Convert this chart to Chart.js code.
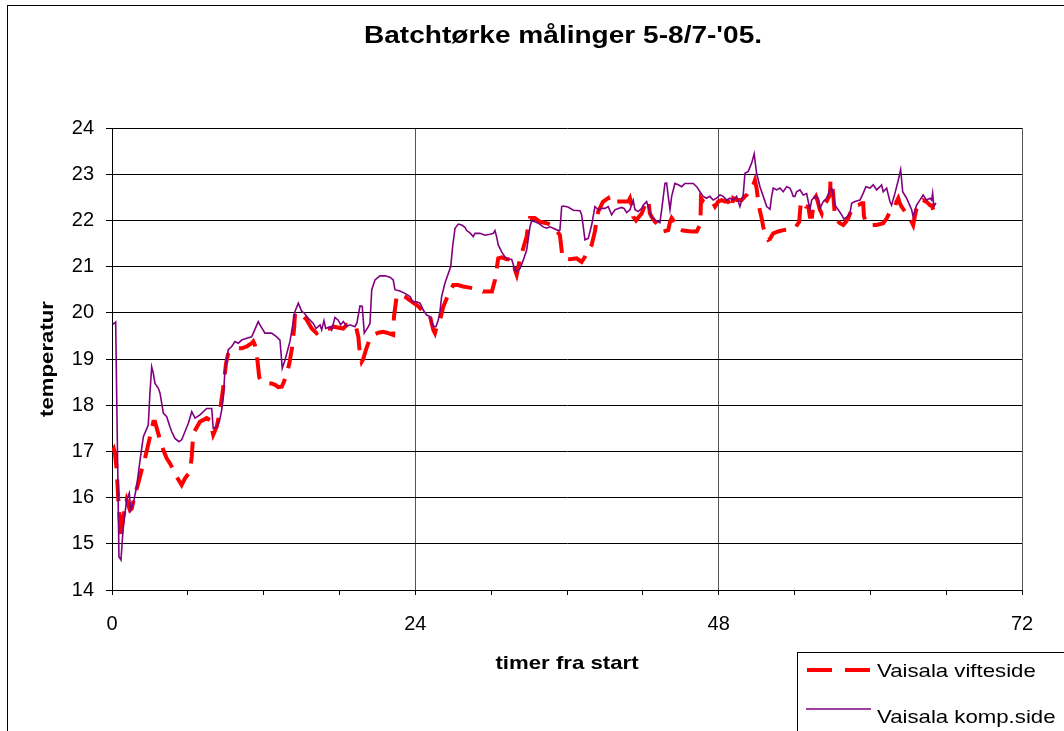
<!DOCTYPE html>
<html><head><meta charset="utf-8">
<script src="https://cdn.jsdelivr.net/npm/chart.js@4"></script>
<style>html,body{margin:0;padding:0;background:#fff;overflow:hidden}#wrap{width:1064px;height:731px;position:relative}</style>
</head><body><div id="wrap"><canvas id="c" width="1064" height="731"></canvas></div>
<script>
const chartTitle = "Batchtørke målinger 5-8/7-'05.";
const xTitle = "timer fra start";
const yTitle = "temperatur";
const seriesNames = ["Vaisala vifteside", "Vaisala komp.side"];
const xTickStep = 6, xLabelStep = 24, xMin = 0, xMax = 72;
const yMin = 14, yMax = 24, yStep = 1;

const kompHours = [0.08,0.29,0.55,0.71,0.89,1.16,1.37,1.48,1.69,1.95,2.22,2.48,2.87,3.0,3.14,3.27,3.4,3.66,3.8,4.06,4.33,4.59,4.72,4.98,5.3,5.51,5.78,6.04,6.31,6.57,6.96,7.49,7.89,8.01,8.28,8.49,8.68,8.81,8.94,9.07,9.2,9.47,9.73,9.99,10.26,10.66,11.05,11.18,11.57,11.71,12.1,12.63,13.03,13.29,13.47,13.69,14.08,14.48,14.74,15.01,15.19,15.53,15.93,16.14,16.46,16.59,16.77,16.91,17.25,17.38,17.64,17.9,18.09,18.3,18.57,18.83,19.22,19.38,19.62,19.8,19.96,20.28,20.41,20.55,20.81,21.2,21.6,21.99,22.25,22.39,22.78,23.18,23.58,23.79,24.11,24.37,24.63,24.9,25.16,25.42,25.63,25.81,25.95,26.08,26.34,26.61,26.8,26.95,27.14,27.4,27.67,27.93,28.06,28.32,28.58,28.72,29.11,29.51,29.91,30.17,30.3,30.43,30.56,30.83,31.09,31.35,31.62,31.88,32.02,32.28,32.54,32.81,33.07,33.2,33.46,33.73,34.12,34.39,34.65,34.91,35.31,35.44,35.58,35.7,36.08,36.5,37.03,37.16,37.29,37.42,37.68,37.95,38.21,38.47,38.74,39.0,39.26,39.53,39.79,40.06,40.32,40.51,40.72,40.98,41.24,41.38,41.64,41.91,42.03,42.3,42.5,42.69,42.96,43.22,43.35,43.49,43.75,43.88,44.01,44.15,44.28,44.54,44.8,45.07,45.33,45.73,45.99,46.26,46.52,46.78,47.04,47.3,47.57,47.83,48.1,48.36,48.63,48.89,49.15,49.42,49.68,49.94,50.08,50.34,50.61,50.81,51.0,51.27,51.53,51.8,52.06,52.19,52.32,52.59,52.85,53.11,53.38,53.64,53.77,53.9,54.03,54.17,54.43,54.69,54.96,55.22,55.36,55.62,55.88,56.01,56.28,56.54,56.8,56.94,57.07,57.2,57.46,57.73,57.91,58.13,58.39,58.52,58.78,59.18,59.44,59.65,59.97,60.23,60.5,60.76,60.89,61.02,61.29,61.55,61.68,61.95,62.21,62.4,62.56,62.87,63.27,63.39,63.66,63.92,64.18,64.45,64.72,64.85,64.93,65.03,65.19];
const kompTemp = [19.75,19.8,14.72,14.65,15.37,15.95,16.1,15.73,15.88,16.24,16.81,17.32,17.57,18.26,18.83,18.69,18.47,18.37,18.26,17.83,17.75,17.53,17.43,17.28,17.21,17.25,17.43,17.61,17.86,17.72,17.79,17.93,17.93,17.5,17.53,17.64,17.9,18.18,18.76,18.98,19.2,19.27,19.38,19.34,19.41,19.45,19.48,19.56,19.81,19.74,19.56,19.56,19.48,19.41,18.8,18.98,19.38,20.03,20.21,20.03,20.0,19.88,19.77,19.66,19.74,19.63,19.83,19.66,19.7,19.63,19.9,19.84,19.74,19.81,19.71,19.74,19.7,19.78,20.15,20.14,19.56,19.7,19.77,20.5,20.71,20.8,20.8,20.77,20.71,20.5,20.47,20.42,20.35,20.24,20.24,20.21,20.06,19.95,19.92,19.7,19.7,19.84,20.03,20.35,20.64,20.85,21.0,21.43,21.83,21.92,21.9,21.85,21.78,21.73,21.65,21.72,21.72,21.68,21.7,21.72,21.78,21.65,21.47,21.32,21.21,21.16,21.16,20.93,20.89,20.96,21.14,21.36,21.86,21.99,21.97,21.94,21.86,21.83,21.86,21.83,21.78,21.79,22.3,22.31,22.29,22.22,22.21,22.12,21.86,21.58,21.61,21.9,22.3,22.23,22.26,22.26,22.3,22.12,22.23,22.26,22.28,22.26,22.17,22.23,22.44,22.23,22.19,22.26,22.33,22.41,22.23,22.08,22.01,21.97,21.95,22.23,22.8,22.81,22.52,22.23,22.52,22.8,22.77,22.73,22.8,22.8,22.8,22.73,22.62,22.52,22.48,22.52,22.44,22.48,22.55,22.52,22.44,22.48,22.44,22.52,22.3,22.55,23.02,23.06,23.24,23.44,23.02,22.73,22.52,22.3,22.24,22.52,22.7,22.66,22.7,22.62,22.73,22.7,22.62,22.52,22.52,22.62,22.66,22.55,22.58,22.23,22.44,22.52,22.48,22.26,22.41,22.48,22.66,22.7,22.52,22.33,22.23,22.12,22.03,22.07,22.15,22.37,22.41,22.44,22.59,22.73,22.7,22.77,22.66,22.73,22.77,22.62,22.7,22.41,22.33,22.59,22.87,23.1,22.62,22.48,22.23,22.08,22.33,22.44,22.55,22.44,22.48,22.44,22.59,22.3,22.38];

const vifteHours = [0.06,0.15,0.24,0.37,0.5,0.63,0.69,0.89,1.16,1.42,1.56,1.81,2.08,2.35,2.61,2.95,3.27,3.4,3.8,4.06,4.33,4.59,5.12,5.51,5.78,6.17,6.31,6.43,6.96,7.49,7.75,8.01,8.28,8.54,8.81,9.02,9.18,9.87,10.26,10.66,11.05,11.18,11.31,11.45,11.65,11.84,12.24,12.63,12.9,13.16,13.43,13.61,13.82,14.03,14.26,14.42,14.48,14.74,15.01,15.4,15.8,16.19,16.46,17.25,17.52,18.3,18.57,19.1,19.3,19.49,19.62,19.75,19.88,20.09,20.41,20.67,21.07,21.46,21.86,22.25,22.31,22.52,22.78,23.18,23.71,24.11,24.37,24.76,25.16,25.42,25.55,25.69,25.95,26.21,26.48,26.74,27.0,27.37,27.77,28.19,28.58,28.98,29.38,29.77,30.06,30.3,30.56,30.85,31.23,31.62,31.75,31.88,32.02,32.12,32.28,32.54,32.81,32.91,33.07,33.46,33.86,34.39,34.79,35.13,35.44,35.65,36.23,36.76,37.16,37.42,37.68,37.95,38.21,38.34,38.47,38.84,39.26,39.4,39.66,40.06,40.43,40.85,40.98,41.11,41.24,41.46,41.61,41.91,42.17,42.43,42.56,42.69,42.96,43.22,43.49,43.62,44.01,44.15,44.28,44.54,44.72,45.17,45.86,46.26,46.52,46.57,46.6,46.78,47.04,47.3,47.57,47.71,47.97,48.23,48.5,48.76,49.02,49.15,49.42,49.82,50.08,50.21,50.47,50.71,50.87,51.0,51.13,51.27,51.4,51.53,51.66,51.92,52.06,52.32,52.71,53.11,53.64,54.03,54.37,54.48,54.56,54.67,54.91,55.09,55.22,55.38,55.54,55.7,55.85,56.01,56.15,56.28,56.54,56.8,56.85,56.96,57.07,57.2,57.33,57.59,57.86,58.07,58.25,58.52,58.65,59.04,59.31,59.44,59.49,59.65,59.97,60.5,61.02,61.31,61.55,61.95,62.08,62.21,62.34,62.47,62.74,63.0,63.27,63.39,63.53,63.66,63.92,64.16,64.45,64.72,64.85,64.98];
const vifteTemp = [17.0,17.05,16.95,16.6,15.95,15.45,15.1,15.58,15.95,15.73,15.76,16.06,16.31,16.6,16.85,17.25,17.64,17.64,17.25,17.03,16.85,16.74,16.45,16.27,16.42,16.56,16.89,17.39,17.64,17.72,17.68,17.36,17.53,17.86,18.4,18.9,19.1,19.23,19.23,19.27,19.34,19.38,19.3,19.12,18.6,18.51,18.47,18.47,18.44,18.39,18.4,18.51,18.69,18.9,19.27,19.7,19.99,19.99,19.96,19.85,19.66,19.56,19.63,19.66,19.7,19.66,19.74,19.74,19.7,19.48,19.1,18.94,19.0,19.2,19.45,19.52,19.57,19.59,19.56,19.52,19.92,20.35,20.4,20.35,20.24,20.17,20.1,19.99,19.92,19.63,19.56,19.7,19.84,20.13,20.31,20.46,20.6,20.6,20.57,20.55,20.53,20.5,20.46,20.46,20.46,20.71,21.18,21.2,21.16,21.16,21.14,20.93,20.82,20.95,21.18,21.4,21.65,21.85,22.05,22.05,21.97,21.94,21.9,21.8,21.68,21.18,21.16,21.18,21.1,21.21,21.36,21.47,21.76,22.01,22.19,22.4,22.48,22.37,22.41,22.41,22.41,22.41,22.48,22.33,22.08,22.0,22.05,22.15,22.33,22.44,22.15,22.08,21.97,21.9,21.86,21.76,21.79,21.97,22.05,21.95,21.83,21.78,21.76,21.76,21.9,22.12,22.48,22.41,22.37,22.41,22.37,22.3,22.41,22.44,22.41,22.41,22.26,22.48,22.44,22.44,22.52,22.55,22.66,22.75,22.87,22.7,22.41,22.2,22.05,21.86,21.72,21.58,21.6,21.72,21.76,21.79,21.81,21.83,21.97,22.33,22.41,22.41,22.3,22.3,22.08,22.08,22.45,22.52,22.4,22.23,22.15,22.3,22.41,22.55,22.87,22.85,22.55,22.08,22.01,21.94,21.9,21.97,22.05,22.23,22.3,22.33,22.37,22.37,22.1,21.94,21.9,21.9,21.94,22.05,22.19,22.3,22.41,22.48,22.37,22.3,22.19,22.08,21.97,21.9,22.1,22.26,22.41,22.44,22.4,22.33,22.33,22.23];

function pairs(xs, ys) {
  const n = Math.min(xs.length, ys.length);
  const out = [];
  for (let i = 0; i < n; i++) out.push({x: xs[i], y: ys[i]});
  return out;
}

const RED = '#FF0000', PURPLE = '#800080';
const FONT = "'Liberation Sans', Arial, sans-serif";

function stretchText(ctx, text, x, y, px, bold, sx, align, rot) {
  ctx.save();
  ctx.translate(x, y);
  if (rot) ctx.rotate(rot);
  ctx.scale(sx, 1);
  ctx.font = (bold ? 'bold ' : '') + px + 'px ' + FONT;
  ctx.fillStyle = '#000';
  ctx.textAlign = align;
  ctx.textBaseline = 'alphabetic';
  ctx.fillText(text, 0, 0);
  ctx.restore();
}

const decor = {
  id: 'decor',
  beforeDraw(chart) {
    const ctx = chart.ctx;
    ctx.save();
    ctx.fillStyle = '#fff';
    ctx.fillRect(0, 0, chart.width, chart.height);
    ctx.restore();
  },
  afterDraw(chart) {
    const ctx = chart.ctx;
    const a = chart.chartArea;
    const cx = (a.left + a.right) / 2, cy = (a.top + a.bottom) / 2;
    ctx.save();
    ctx.strokeStyle = '#000';
    ctx.lineWidth = 1;
    ctx.strokeRect(7.5, 5.5, 1200, 1000);
    ctx.restore();
    stretchText(ctx, chartTitle, cx - 4, 43, 23, true, 1.22, 'center', 0);
    stretchText(ctx, xTitle, cx, 669, 18.5, true, 1.2, 'center', 0);
    stretchText(ctx, yTitle, 53, cy, 18.5, true, 1.2, 'center', -Math.PI / 2);
    // legend
    ctx.save();
    ctx.strokeStyle = '#000';
    ctx.lineWidth = 1;
    ctx.strokeRect(797.5, 652.5, 400, 200);
    ctx.lineCap = 'butt';
    ctx.strokeStyle = RED; ctx.lineWidth = 4; ctx.setLineDash([25, 13]);
    ctx.beginPath(); ctx.moveTo(807, 670); ctx.lineTo(870, 670); ctx.stroke();
    ctx.setLineDash([]);
    ctx.strokeStyle = PURPLE; ctx.lineWidth = 1.6;
    ctx.beginPath(); ctx.moveTo(806, 709); ctx.lineTo(871, 709); ctx.stroke();
    ctx.restore();
    stretchText(ctx, seriesNames[0], 877, 677, 18.5, false, 1.2, 'left', 0);
    stretchText(ctx, seriesNames[1], 877, 723, 18.5, false, 1.2, 'left', 0);
  }
};

new Chart(document.getElementById('c').getContext('2d'), {
  type: 'line',
  data: {
    datasets: [
      { label: seriesNames[0], data: pairs(vifteHours, vifteTemp), borderColor: RED, backgroundColor: RED,
        borderWidth: 4, borderDash: [22, 11], borderCapStyle: 'butt', pointRadius: 0, tension: 0, fill: false, order: 1 },
      { label: seriesNames[1], data: pairs(kompHours, kompTemp), borderColor: PURPLE, backgroundColor: PURPLE,
        borderWidth: 1.6, pointRadius: 0, tension: 0, fill: false, order: 0 }
    ]
  },
  options: {
    responsive: false, animation: false, devicePixelRatio: 1,
    layout: { padding: { left: 0, top: 128, right: 42, bottom: 0 } },
    plugins: { legend: { display: false }, title: { display: false }, tooltip: { enabled: false } },
    scales: {
      x: {
        type: 'linear', min: xMin, max: xMax,
        afterFit(s) { s.height = 141; },
        ticks: { stepSize: xTickStep, autoSkip: false, maxRotation: 0, color: '#000', padding: 17,
          font: { family: FONT, size: 20 },
          callback: v => (v % xLabelStep === 0 ? String(v) : '') },
        grid: { color: c => (c.tick && c.tick.value % xLabelStep === 0 && c.tick.value !== 0) ? '#555' : 'rgba(0,0,0,0)',
          tickColor: '#000', tickLength: 5, lineWidth: 1, drawTicks: true },
        border: { display: true, color: '#000', width: 1 }
      },
      y: {
        min: yMin, max: yMax,
        afterFit(s) { s.width = 112; },
        ticks: { stepSize: yStep, color: '#000', padding: 12, font: { family: FONT, size: 20 } },
        grid: { color: '#000', tickColor: '#000', tickLength: 6, lineWidth: 1 },
        border: { display: true, color: '#000', width: 1 }
      }
    }
  },
  plugins: [decor]
});
</script></body></html>
